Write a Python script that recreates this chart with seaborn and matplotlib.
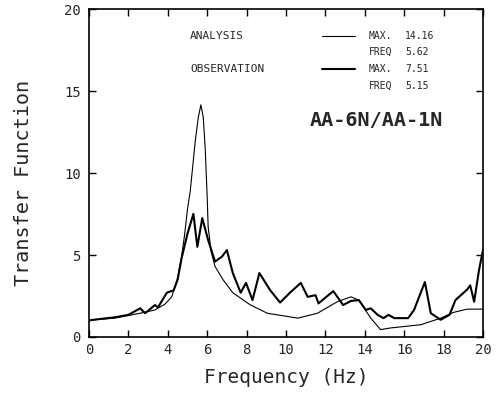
import matplotlib
matplotlib.use("Agg")
import matplotlib.pyplot as plt
import seaborn as sns
import pandas as pd

ana_f = [0.0, 0.15, 1.3, 2.6, 3.35, 3.85, 4.2, 4.5, 4.7, 4.85, 5.0, 5.14, 5.4, 5.55, 5.68, 5.8, 5.9,
         6.0, 6.05, 6.2, 6.4, 6.8, 7.3, 8.2, 9.05, 10.6, 11.6, 12.6, 13.3, 13.7, 14.3, 14.8, 15.3,
         16.85, 17.85, 18.5, 19.2, 20.0]
ana_v = [1.0, 1.04, 1.15, 1.45, 1.65, 2.0, 2.45, 3.6, 4.9, 6.2, 7.8, 8.9, 12.0, 13.4, 14.16, 13.4, 11.5,
         8.5, 6.7, 5.2, 4.3, 3.5, 2.7, 1.95, 1.45, 1.15, 1.45, 2.15, 2.45, 2.25, 1.15, 0.45, 0.55,
         0.75, 1.15, 1.5, 1.7, 1.7]

obs_f = [0.0, 0.15, 1.3, 2.0, 2.6, 2.85, 3.35, 3.5, 3.95, 4.3, 4.5, 4.7, 5.0, 5.3, 5.5, 5.75, 6.05,
         6.4, 6.75, 7.0, 7.3, 7.7, 7.97, 8.3, 8.65, 9.2, 9.7, 10.2, 10.75, 11.1, 11.5, 11.65, 12.4,
         12.9, 13.3, 13.7, 14.05, 14.3, 14.65, 14.95, 15.2, 15.5, 16.2, 16.5, 17.05, 17.35, 17.85,
         18.3, 18.6, 19.2, 19.35, 19.55, 19.8, 20.0]
obs_v = [1.0, 1.04, 1.2, 1.35, 1.75, 1.45, 1.95, 1.8, 2.7, 2.85, 3.5, 4.8, 6.3, 7.51, 5.5, 7.25, 5.9,
         4.6, 4.9, 5.3, 3.9, 2.7, 3.3, 2.25, 3.9, 2.85, 2.1, 2.7, 3.3, 2.45, 2.55, 2.05, 2.8,
         1.95, 2.2, 2.25, 1.65, 1.75, 1.35, 1.15, 1.35, 1.15, 1.15, 1.65, 3.35, 1.45, 1.05,
         1.35, 2.25, 2.9, 3.15, 2.15, 4.1, 5.3]

xticks = [0, 2, 4, 6, 8, 10, 12, 14, 16, 18, 20]
yticks = [0, 5, 10, 15, 20]

sns.set_theme(style="ticks")
plt.rcParams['font.family'] = ['DejaVu Sans Mono', 'DejaVu Sans']

df_a = pd.DataFrame({"f": ana_f, "v": ana_v})
df_o = pd.DataFrame({"f": obs_f, "v": obs_v})

fig = plt.figure(figsize=(4.96, 3.93), dpi=100)
ax = fig.add_axes([0.1794, 0.1425, 0.7944, 0.8345])
sns.lineplot(data=df_a, x="f", y="v", ax=ax, color="black", linewidth=0.8, sort=False)
sns.lineplot(data=df_o, x="f", y="v", ax=ax, color="black", linewidth=1.5, sort=False)

ax.set_xlim(0, 20)
ax.set_ylim(0, 20)
ax.set_xticks(xticks)
ax.set_yticks(yticks)
ax.set_xticklabels([str(t) for t in xticks], fontsize=10)
ax.set_yticklabels([str(t) for t in yticks], fontsize=10)
ax.tick_params(direction="in", top=True, right=True, length=5, width=1, color="black", pad=6)
ax.tick_params(axis="x", pad=4)
for s in ax.spines.values():
    s.set_linewidth(1.2)
    s.set_color("black")
ax.set_xlabel("Frequency (Hz)", fontsize=14, labelpad=8)
ax.set_ylabel("Transfer Function", fontsize=14.5)
ax.yaxis.set_label_coords(-0.142, 0.47)

# legend block
tf = ax.transAxes
def px2ax(px, py):
    return ((px - 89) / 394.0, (337 - py) / 328.0)

fs = 8
x, y = px2ax(190, 36); ax.text(x, y, "ANALYSIS", transform=tf, fontsize=fs, va="center")
x, y = px2ax(190, 69); ax.text(x, y, "OBSERVATION", transform=tf, fontsize=fs, va="center")
x1, y1 = px2ax(322, 36); x2, _ = px2ax(355, 36)
ax.plot([x1, x2], [y1, y1], transform=tf, color="black", linewidth=0.8)
x1, y1 = px2ax(322, 69)
ax.plot([x1, x2], [y1, y1], transform=tf, color="black", linewidth=1.5)
fs2 = 7
for (py, lab, val) in [(36, "MAX.", "14.16"), (52, "FREQ", "5.62"), (69, "MAX.", "7.51"), (86, "FREQ", "5.15")]:
    x, y = px2ax(369, py); ax.text(x, y, lab, transform=tf, fontsize=fs2, va="center")
    x, y = px2ax(405, py); ax.text(x, y, val, transform=tf, fontsize=fs2, va="center")
x, y = px2ax(310, 120)
ax.text(x, y, "AA-6N/AA-1N", transform=tf, fontsize=14.5, va="center", fontweight="bold")

fig.savefig("out.png", dpi=100)
